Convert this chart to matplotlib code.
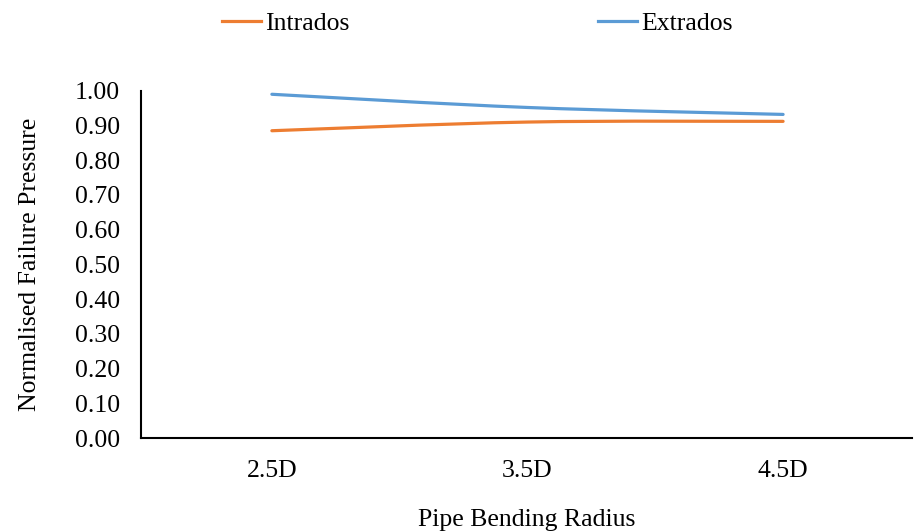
import numpy as np
import matplotlib
matplotlib.use("Agg")
import matplotlib.pyplot as plt
from matplotlib.path import Path
from matplotlib.patches import PathPatch
from matplotlib.lines import Line2D

categories = ["2.5D", "3.5D", "4.5D"]
intrados = [0.885, 0.910, 0.912]
extrados = [0.990, 0.952, 0.932]
yticks = [0.0, 0.1, 0.2, 0.3, 0.4, 0.5, 0.6, 0.7, 0.8, 0.9, 1.0]

plt.rcParams['font.family'] = ['Liberation Serif', 'DejaVu Serif']
FS = 18.5

fig = plt.figure(figsize=(9.14, 5.31), dpi=100)
ax = fig.add_axes([0.154, 0.175, 0.844, 0.654])

def smooth_path(xs, ys, t=1/6):
    xs = np.asarray(xs, float); ys = np.asarray(ys, float)
    n = len(xs)
    verts = [(xs[0], ys[0])]
    codes = [Path.MOVETO]
    for i in range(n - 1):
        p0 = (xs[max(i - 1, 0)], ys[max(i - 1, 0)])
        p1 = (xs[i], ys[i]); p2 = (xs[i + 1], ys[i + 1])
        p3 = (xs[min(i + 2, n - 1)], ys[min(i + 2, n - 1)])
        c1 = (p1[0] + (p2[0] - p0[0]) * t, p1[1] + (p2[1] - p0[1]) * t)
        c2 = (p2[0] - (p3[0] - p1[0]) * t, p2[1] - (p3[1] - p1[1]) * t)
        verts += [c1, c2, p2]
        codes += [Path.CURVE4] * 3
    return Path(verts, codes)

x = np.arange(len(categories))
orange = '#ED7D31'
blue = '#5B9BD5'
for ys, c in [(intrados, orange), (extrados, blue)]:
    ax.add_patch(PathPatch(smooth_path(x, ys), facecolor='none', edgecolor=c,
                           lw=2.3, capstyle='round'))

ax.set_xlim(-0.513, 2.505)
ax.set_ylim(0, 1.0)
ax.set_xticks(x)
ax.set_xticklabels(categories)
ax.set_yticks(yticks)
ax.set_yticklabels([f"{v:.2f}" for v in yticks])
ax.tick_params(axis='both', length=0, labelsize=FS)
ax.tick_params(axis='x', pad=16)
ax.tick_params(axis='y', pad=15)
for s in ['top', 'right']:
    ax.spines[s].set_visible(False)
for s in ['left', 'bottom']:
    ax.spines[s].set_linewidth(1.5)
    ax.spines[s].set_color('black')
ax.set_xlabel("Pipe Bending Radius", fontsize=FS, labelpad=19)
ax.set_ylabel("Normalised Failure Pressure", fontsize=FS, labelpad=24)

handles = [Line2D([], [], color=orange, lw=2.3), Line2D([], [], color=blue, lw=2.3)]
fig.legend(handles, ["Intrados", "Extrados"], loc='center', bbox_to_anchor=(0.522, 0.955),
           ncol=2, frameon=False, fontsize=FS, handlelength=1.55, handletextpad=0.15,
           columnspacing=9.65)

fig.savefig("out.png", dpi=100)
